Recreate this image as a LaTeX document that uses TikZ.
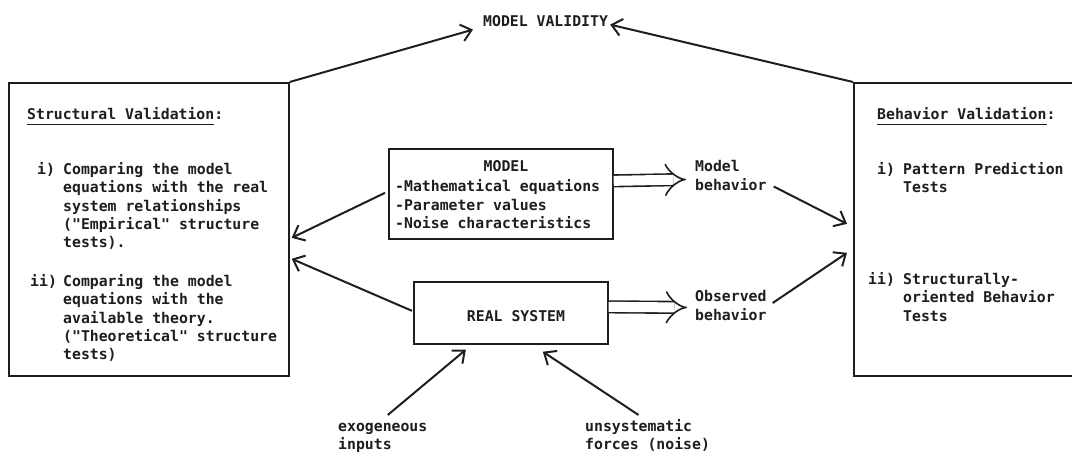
\documentclass[tikz,border=0pt]{standalone}
\usepackage{fontspec}
\setmonofont{DejaVu Sans Mono}
\usetikzlibrary{arrows.meta}
\definecolor{ink}{RGB}{30,30,30}
\newcommand\ulx[1]{\underline{#1\vphantom{y}}}
\newcommand\lns[1]{\begin{tabular}[t]{@{}l@{}}#1\end{tabular}}
\begin{document}
\begin{tikzpicture}[x=1pt,y=-1pt,
  txt/.style={font=\ttfamily\bfseries\fontsize{14.8}{18.3}\selectfont, inner sep=0pt, anchor=base west, text=ink},
  box/.style={draw=ink, line width=1.7pt, inner sep=0pt, anchor=north west},
  arr/.style={draw=ink, line width=2pt, -{Straight Barb[length=10pt,width=17pt]}},
  dbl/.style={draw=ink, double=white, double distance=10pt, line width=1.6pt, -{Implies[length=11pt,width=30pt]}},
]
\useasboundingbox (0,0) rectangle (1072,457);
\clip (0,0) rectangle (1072,457);

% boxes
\node[box, minimum width=280pt, minimum height=293pt] (sv) at (8,82) {};
\node[box, minimum width=240pt, minimum height=293pt] (bv) at (853,82) {};
\node[box, minimum width=224pt, minimum height=90pt] (model) at (388,148) {};
\node[box, minimum width=194pt, minimum height=62pt] (real) at (413,281) {};

% texts
\node[txt] (mv) at (483,27) {MODEL VALIDITY};

\node[txt] (svt) at (27,119.5) {\ulx{Structural Validation}:};
\node[txt] (svi) at (37,174.5) {i)};
\node[txt] (svitxt) at (63,174.5) {\lns{Comparing the model\\equations with the real\\system relationships\\("Empirical" structure\\tests).}};
\node[txt] (svii) at (30,286.5) {ii)};
\node[txt] (sviitxt) at (63,286.5) {\lns{Comparing the model\\equations with the\\available theory.\\("Theoretical" structure\\tests)}};

\node[txt] (bvt) at (877,119.5) {\ulx{Behavior Validation}:};
\node[txt] (bvi) at (877,174.5) {i)};
\node[txt] (bvitxt) at (903,174.5) {\lns{Pattern Prediction\\Tests}};
\node[txt] (bvii) at (868,284.5) {ii)};
\node[txt] (bviitxt) at (903,284.5) {\lns{Structurally-\\oriented Behavior\\Tests}};

\node[txt, anchor=base] (modelt) at (506,172) {MODEL};
\node[txt] (modeltxt) at (395,192) {\lns{-Mathematical equations\\-Parameter values\\-Noise characteristics}};
\node[txt, anchor=base] (realt) at (516,322) {REAL SYSTEM};

\node[txt] (mb) at (695,172) {\lns{Model\\behavior}};
\node[txt] (ob) at (695,302) {\lns{Observed\\behavior}};
\node[txt] (exo) at (338,431) {\lns{exogeneous\\inputs}};
\node[txt] (uns) at (585,431) {\lns{unsystematic\\forces (noise)}};

% connectors
\draw[arr] (sv.north east) -- ([xshift=-10pt,yshift=-8pt]mv.west);
\draw[arr] (bv.north west) -- ([xshift=2pt,yshift=-3pt]mv.east);
\draw[arr] ([xshift=-3pt,yshift=1pt]model.west) -- ([xshift=2pt,yshift=-8.5pt]sv.east);
\draw[arr] ([xshift=-1pt,yshift=2pt]real.west) -- ([xshift=2pt,yshift=-29.5pt]sv.east);
\draw[dbl] ([yshift=13pt]model.east) -- ([xshift=-9pt,yshift=-2pt]mb.west);
\draw[dbl] ([yshift=6pt]real.east) -- ([xshift=-8pt,yshift=0pt]ob.west);
\draw[arr] ([xshift=7pt,yshift=-9pt]mb.east) -- ([xshift=-6pt,yshift=5.5pt]bv.west);
\draw[arr] ([xshift=6pt,yshift=4.5pt]ob.east) -- ([xshift=-6pt,yshift=-23.5pt]bv.west);
\draw[arr] ([xshift=5pt,yshift=3pt]exo.north) -- ([xshift=-45pt,yshift=-5pt]real.south);
\draw[arr] ([xshift=-9pt,yshift=3pt]uns.north) -- ([xshift=32pt,yshift=-7pt]real.south);
\end{tikzpicture}
\end{document}
